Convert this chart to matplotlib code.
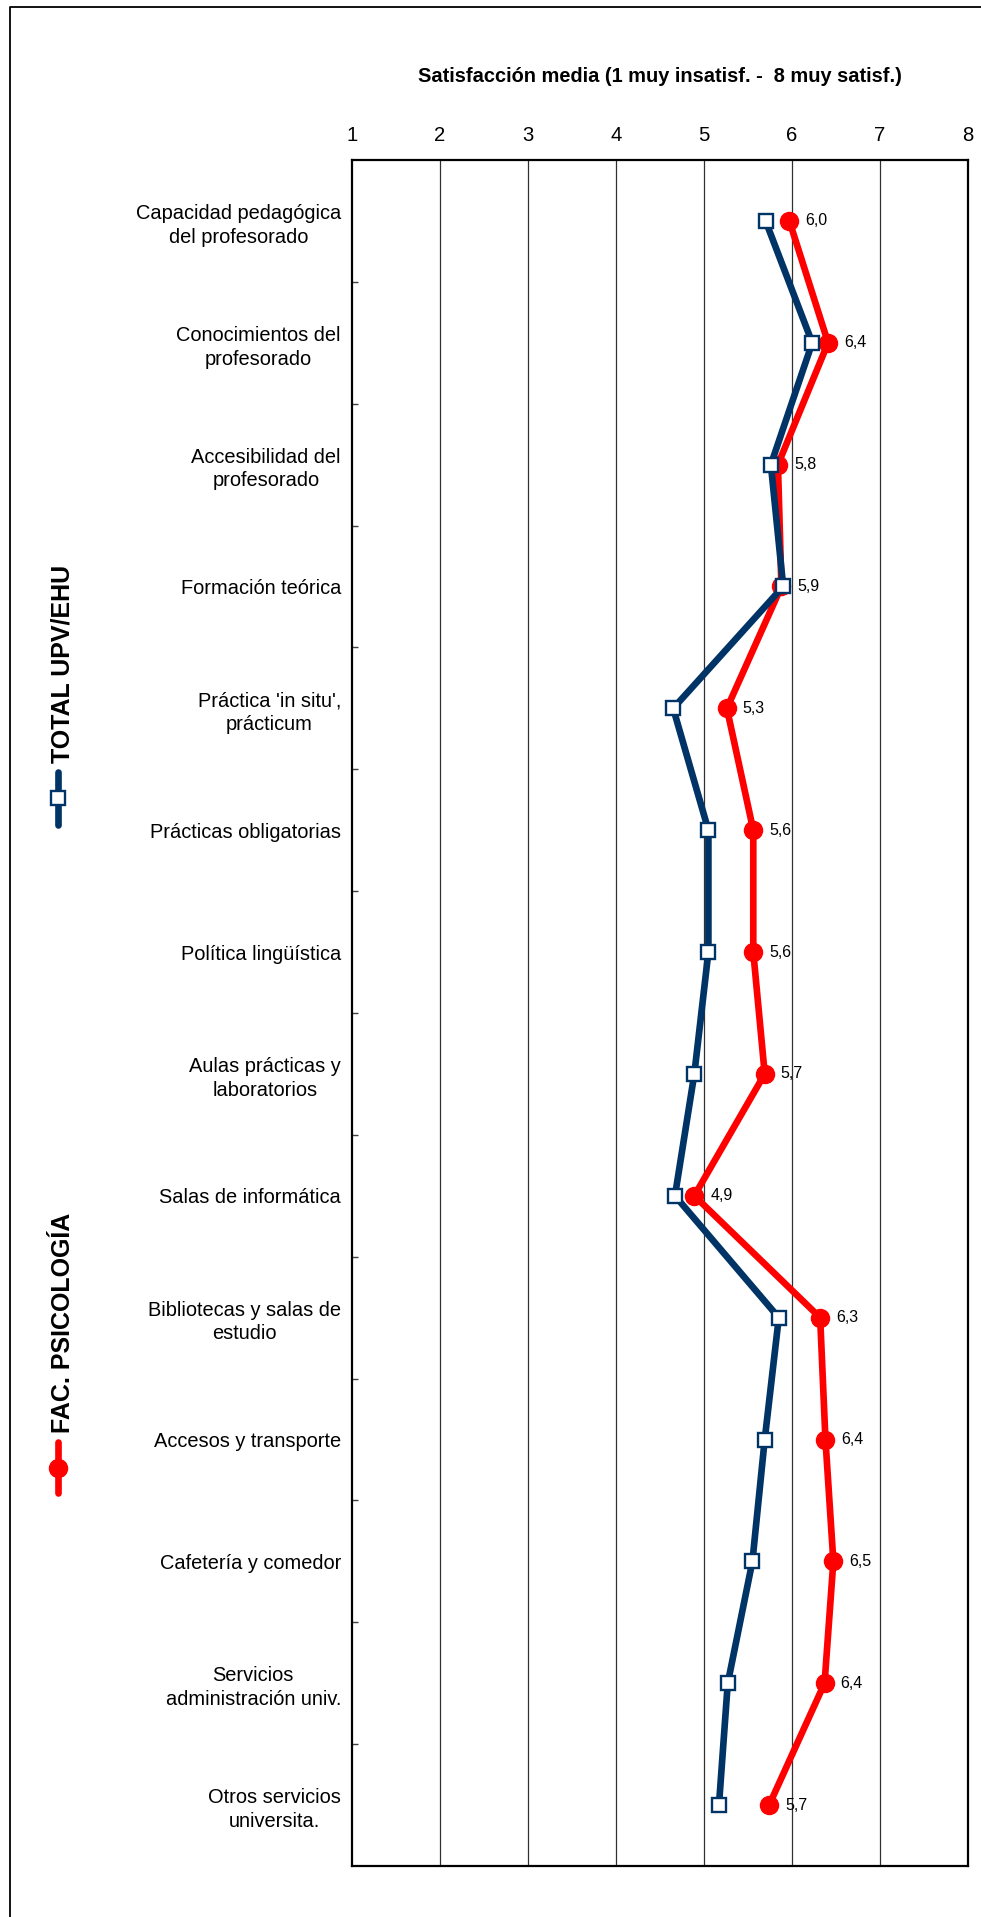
import numpy as np
import matplotlib.pyplot as plt
from matplotlib.lines import Line2D

plt.rcParams['font.family'] = ['Liberation Sans', 'DejaVu Sans']

categorias = [
    "Capacidad pedagógica\ndel profesorado",
    "Conocimientos del\nprofesorado",
    "Accesibilidad del\nprofesorado",
    "Formación teórica",
    "Práctica 'in situ',\nprácticum",
    "Prácticas obligatorias",
    "Política lingüística",
    "Aulas prácticas y\nlaboratorios",
    "Salas de informática",
    "Bibliotecas y salas de\nestudio",
    "Accesos y transporte",
    "Cafetería y comedor",
    "Servicios\nadministración univ.",
    "Otros servicios\nuniversita.",
]
total_upv = [5.70, 6.23, 5.76, 5.90, 4.65, 5.05, 5.05, 4.89, 4.67, 5.85, 5.69, 5.55, 5.27, 5.17]
fac_psico = [5.97, 6.41, 5.84, 5.88, 5.26, 5.56, 5.56, 5.69, 4.89, 6.32, 6.38, 6.47, 6.37, 5.74]
ticks_x = [1, 2, 3, 4, 5, 6, 7, 8]

azul = '#003366'
rojo = '#FF0000'

W, H = 981, 1917
fig = plt.figure(figsize=(W / 100, H / 100), dpi=100)

def fx(px):
    return px / W

def fy(py):
    return 1 - py / H

ax = fig.add_axes([fx(352), fy(1866), fx(968 - 352), (1866 - 160) / H])

y = np.arange(len(categorias))

ax.plot(fac_psico, y, color=rojo, lw=4.8, marker='o', markersize=13,
        markerfacecolor=rojo, markeredgecolor=rojo, zorder=3)
ax.plot(total_upv, y, color=azul, lw=4.8, marker='s', markersize=10,
        markerfacecolor='white', markeredgecolor=azul, markeredgewidth=1.7, zorder=4)

for v, yy in zip(fac_psico, y):
    ax.annotate(f"{v:.1f}".replace('.', ','), (v, yy), xytext=(11.5, 0),
                textcoords='offset points', ha='left', va='center', fontsize=11.5, zorder=5)

ax.set_xlim(1, 8)
ax.set_ylim(len(categorias) - 0.5, -0.5)
ax.set_xticks(ticks_x)
ax.set_xticklabels([str(t) for t in ticks_x], fontsize=14.6)
ax.xaxis.tick_top()
ax.tick_params(axis='x', length=0, pad=11)
for gx in ticks_x[1:-1]:
    ax.axvline(gx, color='#303030', lw=0.9, zorder=1)

ax.set_yticks(y)
ax.set_yticklabels(categorias, fontsize=14.4, linespacing=1.32)
for lab in ax.get_yticklabels():
    lab.set_multialignment('center')
ax.set_yticks(np.arange(len(categorias) - 1) + 0.5, minor=True)
ax.tick_params(axis='y', which='major', length=0, pad=8)
ax.tick_params(axis='y', which='minor', direction='in', length=4, width=1, color='#404040')

for s in ax.spines.values():
    s.set_linewidth(1.6)
    s.set_color('black')

fig.text(fx(660), fy(76), "Satisfacción media (1 muy insatisf. -  8 muy satisf.)",
         ha='center', va='center', fontsize=14.4, fontweight='bold')

# leyenda vertical a la izquierda
fig.text(fx(63), fy(763), "TOTAL UPV/EHU", rotation=90, ha='center', va='bottom',
         fontsize=18, fontweight='bold')
fig.add_artist(Line2D([fx(58), fx(58)], [fy(772), fy(825)], transform=fig.transFigure,
                      color=azul, lw=4.8, solid_capstyle='round'))
fig.add_artist(Line2D([fx(58)], [fy(798)], transform=fig.transFigure, marker='s',
                      markersize=10, markerfacecolor='white', markeredgecolor=azul,
                      markeredgewidth=1.7, linestyle='none'))

fig.text(fx(63), fy(1433), "FAC. PSICOLOGÍA", rotation=90, ha='center', va='bottom',
         fontsize=18, fontweight='bold')
fig.add_artist(Line2D([fx(58), fx(58)], [fy(1442), fy(1493)], transform=fig.transFigure,
                      color=rojo, lw=4.8, solid_capstyle='round'))
fig.add_artist(Line2D([fx(58)], [fy(1468)], transform=fig.transFigure, marker='o',
                      markersize=13, markerfacecolor=rojo, markeredgecolor=rojo,
                      linestyle='none'))

# borde exterior
fig.add_artist(Line2D([fx(10), fx(10), 1], [0, fy(7), fy(7)], transform=fig.transFigure,
                      color='black', lw=1.3))

fig.savefig('out.png', dpi=100, facecolor='white')
